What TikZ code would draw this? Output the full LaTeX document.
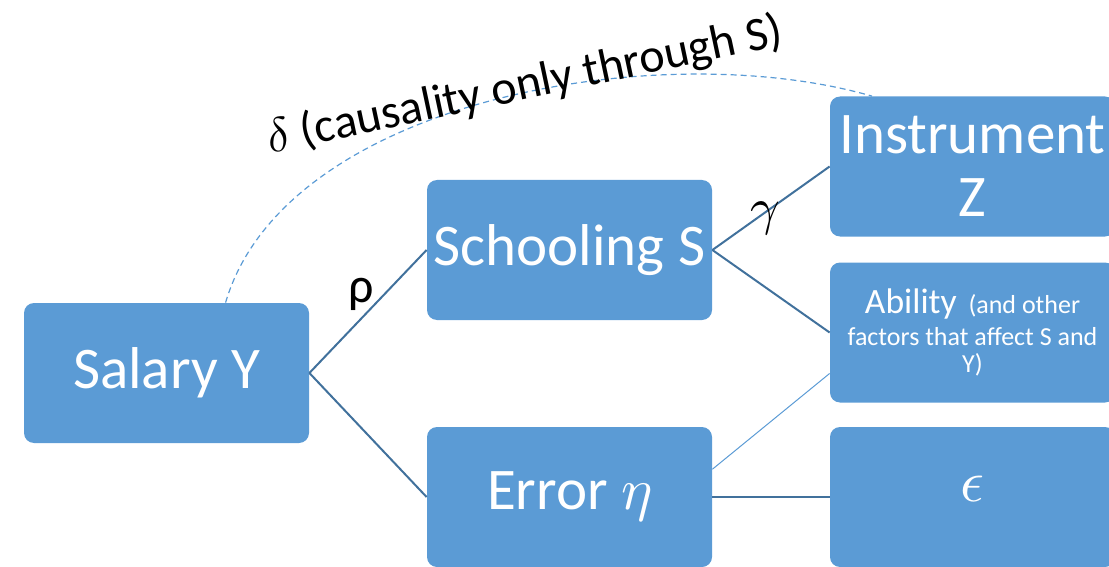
\documentclass[tikz,border=0pt]{standalone}
\usepackage{fontspec}
\usepackage{unicode-math}
\setmainfont{Carlito}
\setmathfont{Latin Modern Math}
\usepackage{xcolor}
\definecolor{boxblue}{HTML}{5B9BD5}
\definecolor{linkblue}{HTML}{41719C}

\begin{document}
\begin{tikzpicture}[x=0.5pt, y=-0.5pt,
		box/.style={fill=boxblue, rounded corners=5pt, minimum width=142.5pt, minimum height=70pt,
			inner sep=0pt, text=white, align=center, font=\fontsize{29.5}{31.5}\selectfont},
		link/.style={draw=linkblue, line width=1pt},
		thinlink/.style={draw=boxblue, line width=0.5pt},
		dashlink/.style={draw=boxblue, line width=0.6pt, dash pattern=on 3pt off 2pt}]
				\useasboundingbox (0,0) rectangle (1109,567);
				\clip (0,0) rectangle (1109,567);
				
				\node[box] (sal) at (166.5,373) {Salary Y};
				\node[box] (sch) at (569.5,250) {Schooling S};
				\node[box] (err) at (569.5,497) {Error $\eta$};
				\node[box] (ins) at (972.5,166.5) {Instrument\\Z};
				\node[box, font=\fontsize{13}{13.5}\selectfont] (abl) at (972.5,332.5)
					{{\fontsize{17.8}{18}\selectfont Ability}~~(and other\\[2.5pt]factors that affect S and\\Y)};
				\node[box] (eps) at (972.5,497) {\smash{\raisebox{-2pt}{$\epsilon$}}};
				
				\draw[link] (sal.east) -- (sch.west);
				\draw[link] (sal.east) -- (err.west);
				\draw[link] (sch.east) -- (ins.west);
				\draw[link] (sch.east) -- (abl.west);
				\draw[link] (err.east) -- (eps.west);
				\draw[thinlink] (err.11.5) -- (abl.196);
				\draw[dashlink] (sal.50.6) .. controls (285,100) and (660,35) .. (ins.145);
				
				\node[font=\fontsize{25}{25}\selectfont] (rho) at (361,294) {ρ};
				\node[font=\fontsize{26}{26}\selectfont] (gam) at (765,219) {$\gamma$};
				\node[rotate=12, font=\fontsize{24}{24}\selectfont] (delta) at (525,86)
					{$\delta$ (causality only through S)};
			\end{tikzpicture}
\end{document}
